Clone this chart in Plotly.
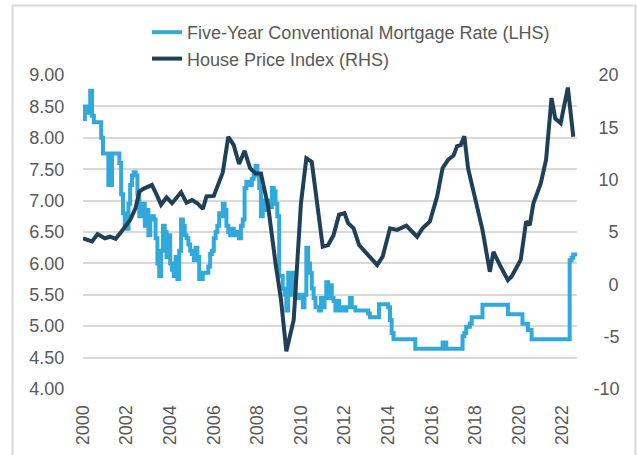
import pandas as pd
import plotly.graph_objects as go

# Five-Year Conventional Mortgage Rate (%, LHS), monthly from Jan 2000
mortgage_rate = (
    [8.30, 8.50, 8.45, 8.40, 8.75, 8.35, 8.25, 8.25, 8.25, 8.25, 8.00, 7.75]    # 2000
    + [7.75, 7.75, 7.25, 7.25, 7.75, 7.75, 7.75, 7.75, 7.60, 7.10, 6.80, 6.60]  # 2001
    + [6.55, 6.95, 7.25, 7.40, 7.45, 7.40, 7.10, 6.75, 6.95, 6.95, 6.60, 6.85]  # 2002
    + [6.45, 6.75, 6.75, 6.70, 6.40, 6.00, 5.80, 6.20, 6.60, 6.50, 6.10, 6.45]  # 2003
    + [6.00, 5.90, 5.80, 6.10, 5.75, 6.20, 6.70, 6.60, 6.45, 6.40, 6.30, 6.20]  # 2004
    + [6.15, 6.05, 6.25, 6.10, 5.75, 5.75, 5.85, 5.85, 5.85, 5.95, 6.15, 6.20]  # 2005
    + [6.40, 6.50, 6.60, 6.80, 6.75, 6.95, 6.85, 6.60, 6.50, 6.45, 6.55, 6.45]  # 2006
    + [6.50, 6.45, 6.40, 6.60, 6.70, 7.20, 7.30, 7.25, 7.25, 7.35, 7.40, 7.55]  # 2007
    + [7.40, 7.20, 6.75, 7.00, 6.85, 6.90, 7.00, 6.90, 7.20, 7.15, 6.95, 6.75]  # 2008
    + [5.80, 5.80, 5.60, 5.50, 5.25, 5.85, 5.85, 5.50, 5.85, 5.50, 5.45, 5.50]  # 2009
    + [5.45, 5.30, 5.50, 6.25, 6.00, 5.85, 5.60, 5.45, 5.30, 5.30, 5.25, 5.45]  # 2010
    + [5.30, 5.45, 5.70, 5.45, 5.65, 5.45, 5.40, 5.25, 5.40, 5.25, 5.30, 5.25]  # 2011
    + [5.25, 5.30, 5.30, 5.45, 5.30, 5.30, 5.25, 5.25, 5.25, 5.25, 5.25, 5.25]  # 2012
    + [5.25, 5.20, 5.14, 5.14, 5.14, 5.14, 5.14, 5.35, 5.35, 5.35, 5.35, 5.35]  # 2013
    + [5.30, 5.10, 4.89, 4.79, 4.79, 4.79, 4.79, 4.79, 4.79, 4.79, 4.79, 4.79]  # 2014
    + [4.79, 4.79, 4.79, 4.64, 4.64, 4.64, 4.64, 4.64, 4.64, 4.64, 4.64, 4.64]  # 2015
    + [4.64, 4.64, 4.64, 4.64, 4.64, 4.64, 4.74, 4.74, 4.64, 4.64, 4.64, 4.64]  # 2016
    + [4.64, 4.64, 4.64, 4.64, 4.64, 4.84, 4.89, 4.99, 4.99, 5.04, 5.14, 5.14]  # 2017
    + [5.14, 5.14, 5.14, 5.14, 5.34, 5.34, 5.34, 5.34, 5.34, 5.34, 5.34, 5.34]  # 2018
    + [5.34, 5.34, 5.34, 5.34, 5.34, 5.34, 5.19, 5.19, 5.19, 5.19, 5.19, 5.19]  # 2019
    + [5.19, 5.19, 5.04, 5.04, 5.04, 4.94, 4.94, 4.79, 4.79, 4.79, 4.79, 4.79]  # 2020
    + [4.79, 4.79, 4.79, 4.79, 4.79, 4.79, 4.79, 4.79, 4.79, 4.79, 4.79, 4.79]  # 2021
    + [4.79, 4.79, 4.79, 4.79, 6.05, 6.09, 6.14, 6.14, 6.14]                    # 2022
)
mortgage_dates = pd.date_range("2000-01-01", periods=len(mortgage_rate), freq="MS")

# House Price Index (y/y %, RHS)
hpi_dates = [
    "2000-01", "2000-03", "2000-06", "2000-09", "2001-01", "2001-04", "2001-07", "2001-10",
    "2002-03", "2002-06", "2002-08", "2002-10", "2003-02", "2003-03", "2003-06", "2003-08",
    "2003-11", "2004-02", "2004-07", "2004-10", "2005-01", "2005-04", "2005-07", "2005-09",
    "2006-01", "2006-04", "2006-06", "2006-09", "2006-12", "2007-03", "2007-06", "2007-09",
    "2007-12", "2008-03", "2008-07", "2008-11", "2009-02", "2009-05", "2009-09", "2010-01",
    "2010-04", "2010-07", "2010-10", "2011-01", "2011-04", "2011-07", "2011-10", "2012-01",
    "2012-03", "2012-06", "2012-09", "2013-02", "2013-07", "2013-10", "2014-02", "2014-06",
    "2014-11", "2015-05", "2015-08", "2015-12", "2016-04", "2016-07", "2016-10", "2017-01",
    "2017-03", "2017-05", "2017-07", "2017-09", "2017-12", "2018-05", "2018-09", "2018-11",
    "2019-03", "2019-07", "2019-09", "2020-02", "2020-05", "2020-07", "2020-09", "2021-01",
    "2021-04", "2021-07", "2021-09", "2021-12", "2022-04", "2022-07",
]
hpi_values = [
    4.4, 4.3, 4.1, 4.8, 4.4, 4.55, 4.35, 5.0,
    6.15, 7.3, 8.85, 9.1, 9.4, 9.5, 8.4, 7.6,
    8.3, 7.75, 8.8, 7.8, 8.05, 7.75, 7.2, 8.4,
    8.45, 9.7, 10.7, 14.1, 13.3, 11.5, 12.75, 11.1,
    10.6, 10.6, 7.4, 2.0, -1.5, -6.4, -3.4, 7.75,
    12.05, 11.7, 7.75, 3.6, 3.75, 4.7, 6.65, 6.8,
    5.85, 5.35, 3.75, 2.8, 1.85, 2.65, 5.35, 5.2,
    5.6, 4.55, 5.35, 6.0, 8.4, 11.1, 11.9, 12.3,
    13.2, 13.3, 14.15, 11.1, 8.85, 5.2, 1.2, 3.1,
    1.7, 0.4, 0.75, 2.35, 6.0, 5.65, 7.75, 9.65,
    11.9, 17.8, 15.85, 15.4, 18.8, 14.1,
]

left_ticks = [4.0, 4.5, 5.0, 5.5, 6.0, 6.5, 7.0, 7.5, 8.0, 8.5, 9.0]
right_ticks = [-10, -5, 0, 5, 10, 15, 20]
# right-hand labels, padded with fixed-width spaces so they line up on the right
right_labels = ["-10", "\u2007-5", "\u2007\u20080", "\u2007\u20085",
                "\u200810", "\u200815", "\u200820"]

FONT = "Liberation Sans, Arial, sans-serif"
GREY = "#595959"
FS = 18

fig = go.Figure()
fig.add_trace(go.Scatter(
    x=mortgage_dates, y=mortgage_rate, mode="lines",
    name="Five-Year Conventional Mortgage Rate (LHS)",
    line=dict(color="#31A9DB", width=4, shape="hv"),
))
fig.add_trace(go.Scatter(
    x=pd.to_datetime(hpi_dates), y=hpi_values, mode="lines",
    name="House Price Index (RHS)", yaxis="y2",
    line=dict(color="#1F4056", width=4),
))

W, H = 638, 455
L, R, T, B = 83, 61, 75, 66
plot_w = W - L - R
plot_h = H - T - B

def px_x(p):
    return (p - L) / plot_w

def px_y(p):
    return (H - B - p) / plot_h

fig.update_layout(
    width=W, height=H,
    margin=dict(l=L, r=R, t=T, b=B, autoexpand=False),
    paper_bgcolor="white", plot_bgcolor="white",
    font=dict(family=FONT, size=FS, color=GREY),
    showlegend=True,
    legend=dict(
        x=px_x(147), y=px_y(14), xanchor="left", yanchor="top",
        font=dict(family=FONT, size=FS, color=GREY),
        bgcolor="rgba(0,0,0,0)", tracegroupgap=0,
    ),
    xaxis=dict(
        type="date",
        range=["2000-01-01", "2022-09-01"],
        tick0="2000-01-01", dtick="M24", tickformat="%Y",
        tickangle=-90, showgrid=False, zeroline=False, showline=False,
        ticks="outside", ticklen=8, tickcolor="rgba(0,0,0,0)",
        tickfont=dict(family=FONT, size=FS, color=GREY),
    ),
    yaxis=dict(
        range=[3.999, 9.001], tickvals=left_ticks, tickformat=".2f",
        showgrid=True, gridcolor="#D9D9D9", gridwidth=2,
        zeroline=False, showline=False,
        ticks="outside", ticklen=14, tickcolor="rgba(0,0,0,0)",
        tickfont=dict(family=FONT, size=FS, color=GREY),
    ),
    yaxis2=dict(
        overlaying="y", side="right",
        range=[-10, 20], tickvals=right_ticks, ticktext=right_labels,
        showgrid=False, zeroline=False, showline=False,
        ticks="outside", ticklen=12, tickcolor="rgba(0,0,0,0)",
        tickfont=dict(family=FONT, size=FS, color=GREY),
    ),
    shapes=[dict(
        type="rect", xref="paper", yref="paper",
        x0=px_x(12.5), x1=px_x(635.5), y0=px_y(470), y1=px_y(5.5),
        line=dict(color="#D9D9D9", width=2), fillcolor="rgba(0,0,0,0)",
        layer="below",
    )],
)

fig.write_html(
    "out.html",
    config={"displayModeBar": False},
    post_script="document.body.style.margin='0';document.body.style.padding='0';",
)
